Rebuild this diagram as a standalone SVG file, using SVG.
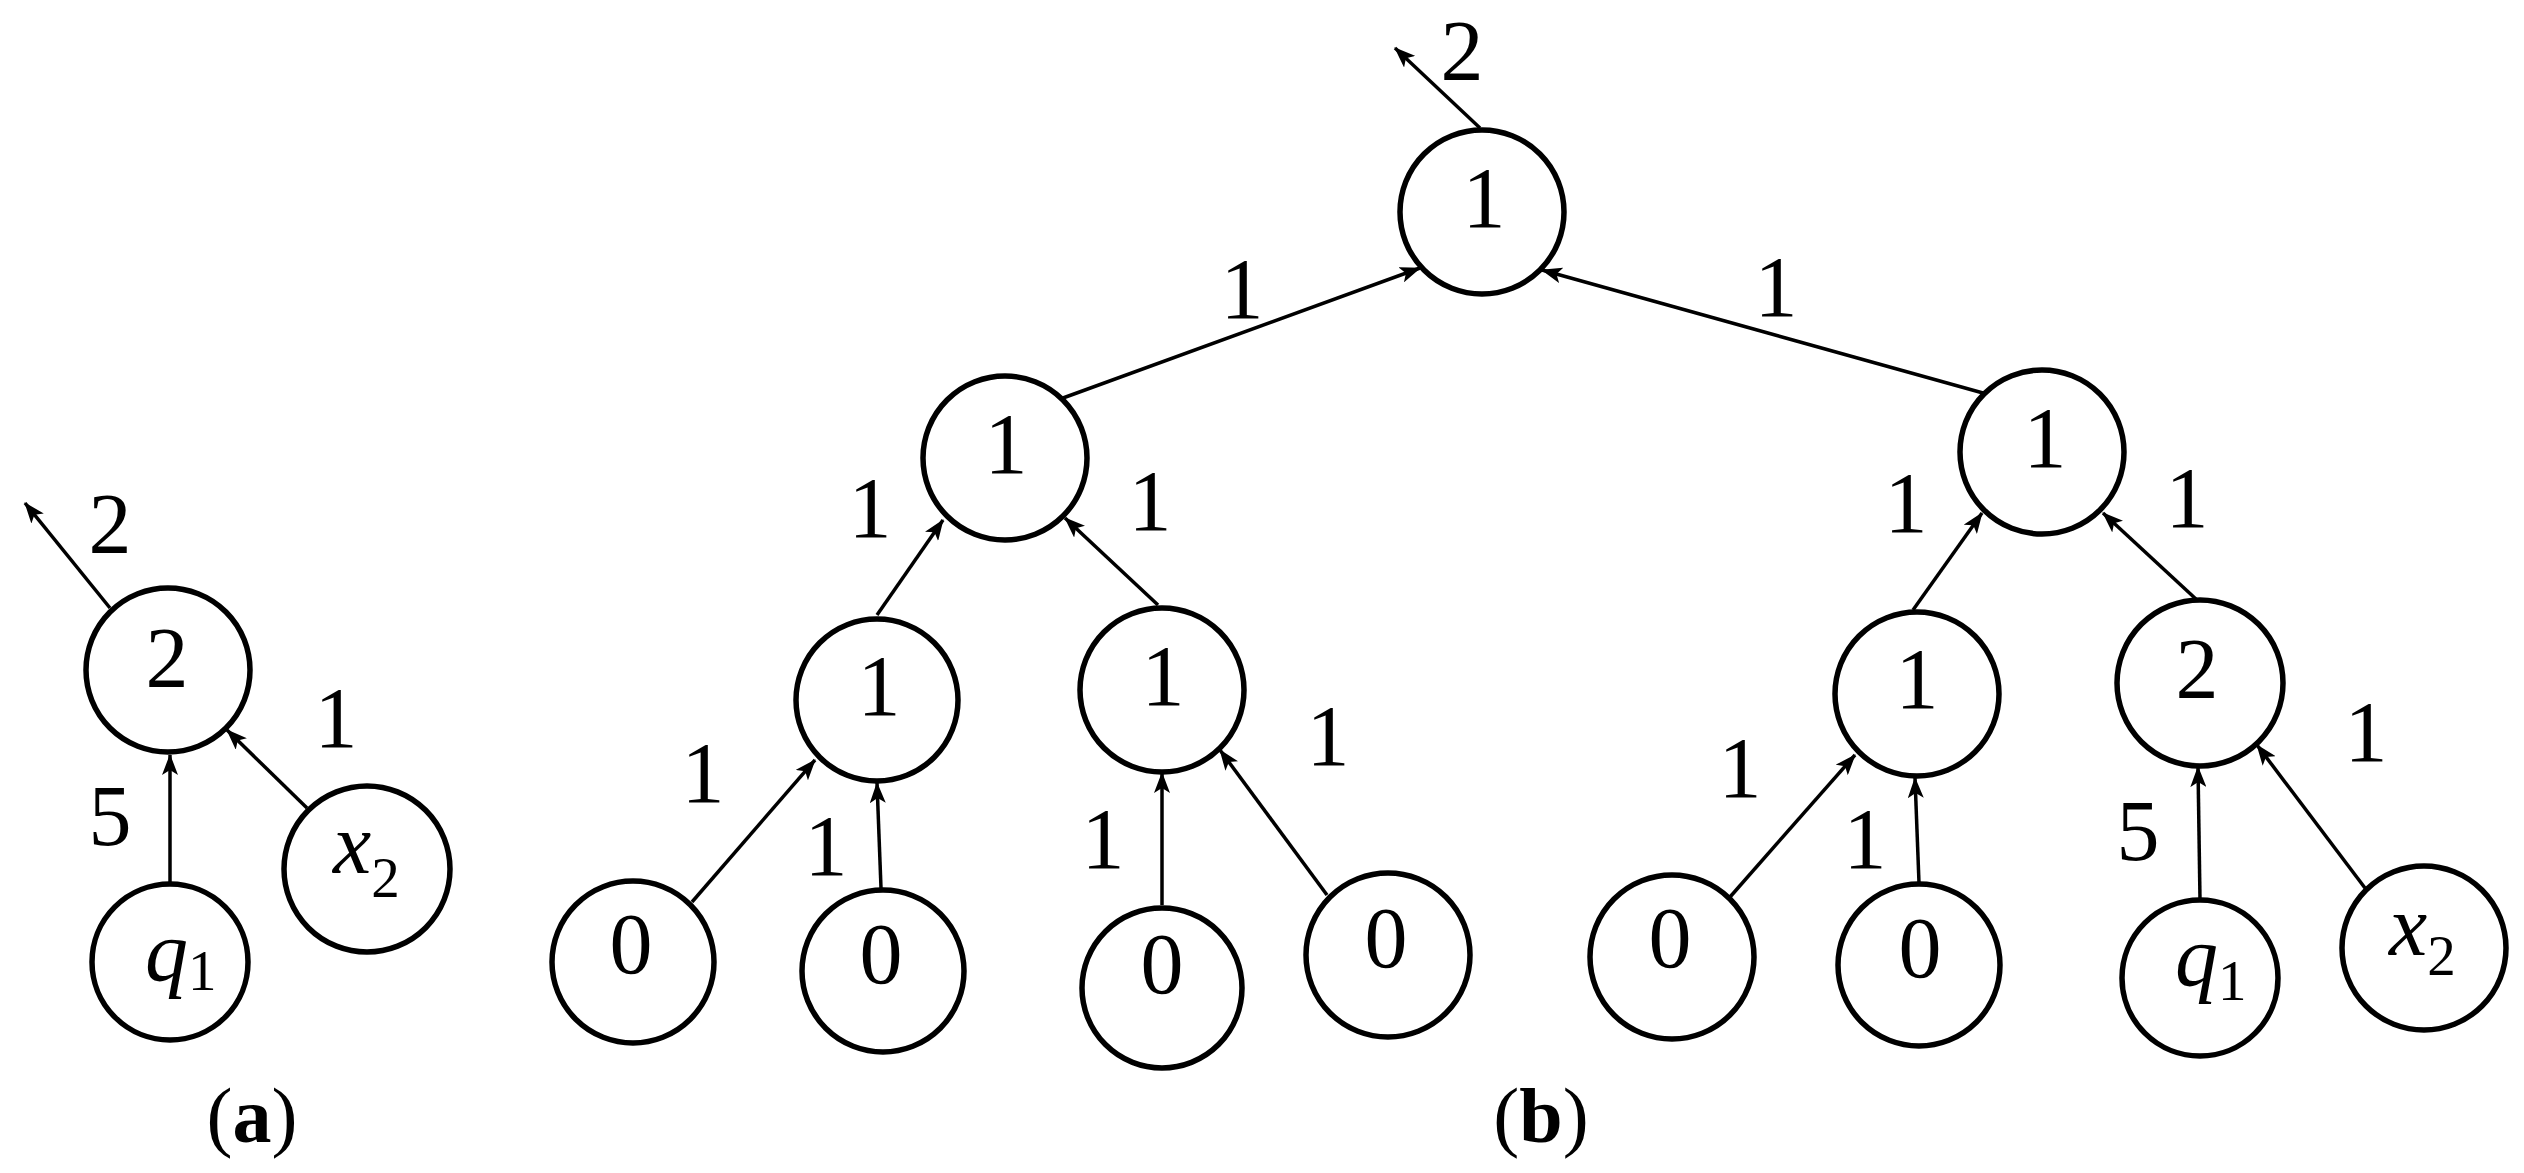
<svg xmlns="http://www.w3.org/2000/svg" width="2524" height="1173" viewBox="0 0 2524 1173">
<style>
.n{fill:#fff;stroke:#000;stroke-width:5.5}
.e{stroke:#000;stroke-width:3.5;fill:none;marker-end:url(#ah)}
text{font-family:"Liberation Serif","Times New Roman",serif;font-size:86px;fill:#000;text-anchor:middle}
.v{font-style:italic;text-anchor:start}
.s{font-size:57px;font-style:normal;text-anchor:start}
.cap{font-size:78px}
.b{font-weight:bold}
</style>
<defs>
<marker id="ah" markerUnits="userSpaceOnUse" markerWidth="22" markerHeight="16" refX="20" refY="8" orient="auto">
<path d="M0,0 L21,8 L0,16 L5,8 z" fill="#000"/>
</marker>
</defs>
<rect width="2524" height="1173" fill="#fff"/>
<g id="connectors">
<line class="e" x1="110" y1="608" x2="25" y2="503"/>
<line class="e" x1="170" y1="885" x2="170" y2="755"/>
<line class="e" x1="307" y1="808" x2="227" y2="730"/>
<line class="e" x1="1480" y1="128" x2="1395" y2="48"/>
<line class="e" x1="1063" y1="398" x2="1420" y2="268"/>
<line class="e" x1="1983" y1="393" x2="1542" y2="270"/>
<line class="e" x1="877" y1="615" x2="943" y2="520"/>
<line class="e" x1="1158" y1="605" x2="1065" y2="518"/>
<line class="e" x1="1913" y1="610" x2="1982" y2="513"/>
<line class="e" x1="2197" y1="600" x2="2103" y2="513"/>
<line class="e" x1="692" y1="902" x2="815" y2="760"/>
<line class="e" x1="881" y1="888" x2="877" y2="783"/>
<line class="e" x1="1162" y1="905" x2="1162" y2="773"/>
<line class="e" x1="1327" y1="895" x2="1220" y2="750"/>
<line class="e" x1="1730" y1="897" x2="1855" y2="755"/>
<line class="e" x1="1919" y1="883" x2="1915" y2="778"/>
<line class="e" x1="2200" y1="900" x2="2198" y2="767"/>
<line class="e" x1="2365" y1="888" x2="2257" y2="745"/>
</g>
<g id="edge-labels">
<text x="110" y="553">2</text>
<text x="336" y="747">1</text>
<text x="110" y="845">5</text>
<text x="1462" y="80">2</text>
<text x="1242" y="318">1</text>
<text x="1776" y="316">1</text>
<text x="870" y="537">1</text>
<text x="1150" y="530">1</text>
<text x="1906" y="532">1</text>
<text x="2187" y="527">1</text>
<text x="703" y="802">1</text>
<text x="826" y="875">1</text>
<text x="1103" y="868">1</text>
<text x="1328" y="765">1</text>
<text x="1740" y="797">1</text>
<text x="1865" y="868">1</text>
<text x="2138" y="860">5</text>
<text x="2366" y="761">1</text>
</g>
<g id="a-root"><circle class="n" cx="168" cy="670" r="82"/><text x="167" y="687">2</text></g>
<g id="a-q1"><circle class="n" cx="170" cy="962" r="78"/><text class="v" x="145" y="980">q<tspan class="s" y="990">1</tspan></text></g>
<g id="a-x2"><circle class="n" cx="367" cy="869" r="83"/><text class="v" x="333" y="873">x<tspan class="s" y="897">2</tspan></text></g>
<g id="b-T"><circle class="n" cx="1482" cy="212" r="82"/><text x="1484" y="227">1</text></g>
<g id="b-C"><circle class="n" cx="1005" cy="458" r="82"/><text x="1006" y="473">1</text></g>
<g id="b-D"><circle class="n" cx="2042" cy="452" r="82"/><text x="2045" y="467">1</text></g>
<g id="b-A"><circle class="n" cx="877" cy="700" r="81"/><text x="879" y="715">1</text></g>
<g id="b-B"><circle class="n" cx="1162" cy="690" r="82"/><text x="1163" y="705">1</text></g>
<g id="b-E"><circle class="n" cx="1917" cy="694" r="82"/><text x="1917" y="708">1</text></g>
<g id="b-F"><circle class="n" cx="2200" cy="683" r="83"/><text x="2197" y="698">2</text></g>
<g id="b-L1"><circle class="n" cx="633" cy="962" r="81"/><text x="631" y="973">0</text></g>
<g id="b-L2"><circle class="n" cx="883" cy="971" r="81"/><text x="881" y="983">0</text></g>
<g id="b-L3"><circle class="n" cx="1162" cy="988" r="80"/><text x="1162" y="993">0</text></g>
<g id="b-L4"><circle class="n" cx="1388" cy="955" r="82"/><text x="1386" y="967">0</text></g>
<g id="b-L5"><circle class="n" cx="1672" cy="957" r="82"/><text x="1670" y="967">0</text></g>
<g id="b-L6"><circle class="n" cx="1919" cy="965" r="81"/><text x="1920" y="977">0</text></g>
<g id="b-q1"><circle class="n" cx="2200" cy="978" r="78"/><text class="v" x="2175" y="985">q<tspan class="s" y="1000">1</tspan></text></g>
<g id="b-x2"><circle class="n" cx="2424" cy="948" r="82"/><text class="v" x="2389" y="955">x<tspan class="s" y="975">2</tspan></text></g>
<g id="captions">
<text class="cap" x="252" y="1142">(<tspan class="b">a</tspan>)</text>
<text class="cap" x="1541" y="1142">(<tspan class="b">b</tspan>)</text>
</g>
</svg>
